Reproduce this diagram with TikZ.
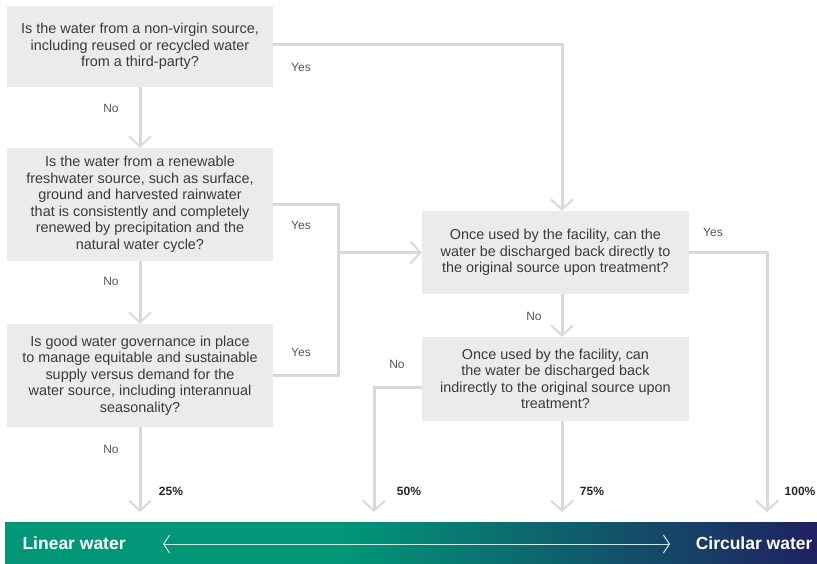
\documentclass[tikz,border=0pt]{standalone}
\usepackage{fontspec}
\setmainfont{Liberation Sans}
\usetikzlibrary{arrows.meta}
\definecolor{boxgray}{HTML}{EBEBEB}
\definecolor{linegray}{HTML}{D9D9D9}
\definecolor{txtgray}{HTML}{3A3A3A}
\definecolor{wgreen}{HTML}{009677}
\definecolor{wnavy}{HTML}{1F2160}
\pgfdeclarehorizontalshading{barshade}{100bp}{color(0bp)=(wgreen); color(46bp)=(wgreen); color(75bp)=(wnavy); color(100bp)=(wnavy)}
\tikzset{
	q_box/.style = {rectangle, fill=boxgray, align=center, inner sep=0pt,
		text=txtgray, font=\fontsize{14.4}{16.5}\selectfont,
		minimum width=266pt},% question box
	lbl/.style = {text=txtgray!85, font=\fontsize{12}{14}\selectfont},% yes / no
	pct/.style = {text=black!85, font=\bfseries\fontsize{12}{14}\selectfont},% percent
	bar_txt/.style = {text=white, font=\bfseries\fontsize{17.5}{19}\selectfont},% scale ends
	flow/.style = {draw=linegray, line width=3pt,
		-{Straight Barb[length=10pt,width=22pt,line width=2pt]}}
}

\begin{document}
\begin{tikzpicture}[x=1pt,y=-1pt]
	\useasboundingbox (0,0) rectangle (817,563);
	% questions
	\node[q_box, minimum height=81pt] (qsource) at (140,46.5)
		{Is the water from a non-virgin source,\\ including reused or recycled water\\ from a third-party?};
	\node[q_box, minimum height=113pt] (qrenew) at (140,204.5)
		{Is the water from a renewable\\ freshwater source, such as surface,\\ ground and harvested rainwater\\ that is consistently and completely\\ renewed by precipitation and the\\ natural water cycle?};
	\node[q_box, minimum height=103pt] (qgovern) at (140,375.5)
		{Is good water governance in place\\ to manage equitable and sustainable\\ supply versus demand for the\\ water source, including interannual\\ seasonality?};
	\node[q_box, minimum height=83pt, minimum width=267pt] (qdirect) at (555.5,252.5)
		{Once used by the facility, can the\\ water be discharged back directly to\\ the original source upon treatment?};
	\node[q_box, minimum height=84pt, minimum width=267pt] (qindirect) at (555.5,379)
		{Once used by the facility, can\\ the water be discharged back\\ indirectly to the original source upon\\ treatment?};
	% helper points
	\coordinate (colR) at (562,0);
	\coordinate (brk) at (338,0);
	\coordinate (end25) at (140,512);
	\coordinate (end50) at (374,512);
	\coordinate (end75) at (562,512);
	\coordinate (end100) at (767,512);
	% connectors
	\draw[flow] (qsource.east |- 0,44) -- (colR |- 0,44) -- (colR |- qdirect.north);
	\draw[flow] (qsource.south) -- (qrenew.north);
	\draw[flow] (qrenew.south) -- (qgovern.north);
	\draw[flow] (qgovern.south) -- (end25);
	\draw[flow, -] (qrenew.east) -- (brk |- qrenew.east) -- (brk |- qgovern.east) -- (qgovern.east);
	\draw[flow] (brk |- qdirect.west) -- (qdirect.west);
	\draw[flow] (colR |- qdirect.south) -- (colR |- qindirect.north);
	\draw[flow] (qdirect.east) -- (end100 |- qdirect.east) -- (end100);
	\draw[flow] (qindirect.west |- 0,387) -- (end50 |- 0,387) -- (end50);
	\draw[flow] (colR |- qindirect.south) -- (end75);
	% yes / no
	\node[lbl] (y1) at (301,67) {Yes};
	\node[lbl] (n1) at (111,108) {No};
	\node[lbl] (y2) at (301,225) {Yes};
	\node[lbl] (n2) at (111,281) {No};
	\node[lbl] (y3) at (301,352) {Yes};
	\node[lbl] (n3) at (111,449) {No};
	\node[lbl] (y4) at (713,232) {Yes};
	\node[lbl] (n4) at (534,316) {No};
	\node[lbl] (n5) at (397,364) {No};
	% percentages
	\node[pct] (p25) at (171,491) {25\%};
	\node[pct] (p50) at (409,491) {50\%};
	\node[pct] (p75) at (592,491) {75\%};
	\node[pct] (p100) at (800,491) {100\%};
	% scale bar
	\shade[shading=barshade] (5,522) rectangle (817,563);
	\node[bar_txt, anchor=west] (linear) at (19,543) {Linear water};
	\node[bar_txt, anchor=east] (circular) at (816,543) {Circular water};
	\coordinate (sl) at (163,544);
	\coordinate (sr) at (670,544);
	\draw[white!80!wgreen, line width=1pt,
		{Straight Barb[length=6pt,width=18pt]}-{Straight Barb[length=6pt,width=18pt]}] (sl) -- (sr);
\end{tikzpicture}
\end{document}
